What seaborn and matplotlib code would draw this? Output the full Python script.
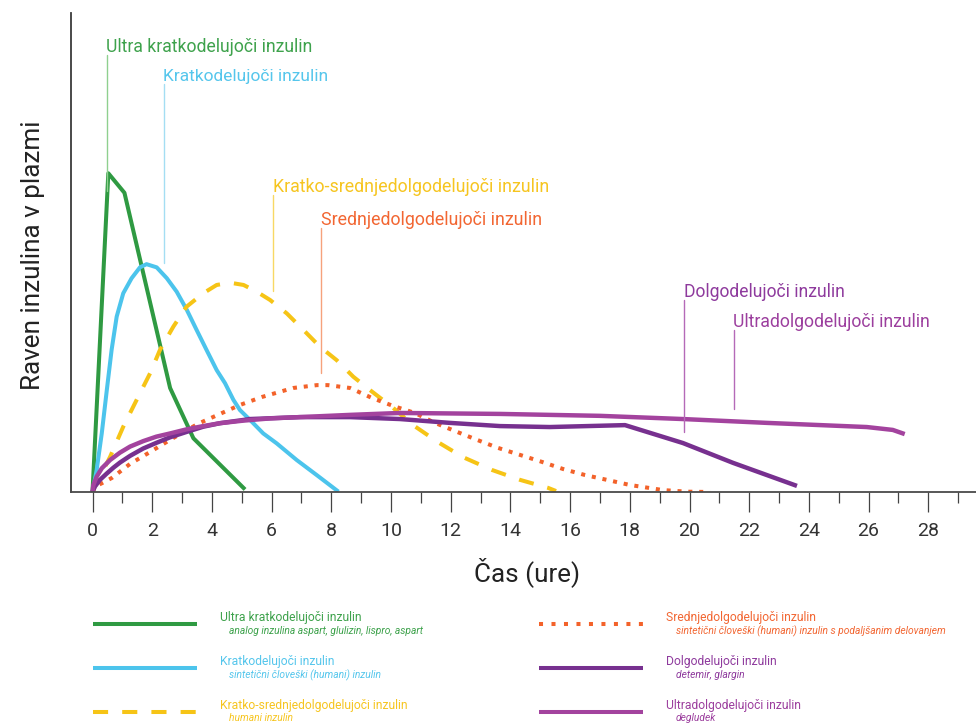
import numpy as np
import matplotlib
matplotlib.use("Agg")
import matplotlib.pyplot as plt
from matplotlib.lines import Line2D
import seaborn as sns

# ---------------- data (time in hours, relative plasma level) ----------------
names = ["Ultra kratkodelujoči inzulin", "Kratkodelujoči inzulin",
         "Kratko-srednjedolgodelujoči inzulin", "Srednjedolgodelujoči inzulin",
         "Dolgodelujoči inzulin", "Ultradolgodelujoči inzulin"]
subtitles = ["analog inzulina aspart, glulizin, lispro, aspart",
             "sintetični človeški (humani) inzulin",
             "humani inzulin",
             "sintetični človeški (humani) inzulin s podaljšanim delovanjem",
             "detemir, glargin",
             "degludek"]

ultra_t = [0, 0.53, 1.07, 2.60, 3.38, 5.11]
ultra_v = [0, 99.6, 93.5, 32.5, 16.8, 0.8]

short_t = [0, 0.14, 0.31, 0.48, 0.64, 0.81, 1.03, 1.31, 1.59, 1.81, 2.15, 2.49, 2.82, 3.16, 3.49, 3.82,
           4.16, 4.44, 4.72, 4.94, 5.28, 5.72, 6.17, 6.84, 7.51, 8.24]
short_v = [0, 6.9, 18.3, 31.9, 44.4, 54.8, 62.1, 66.8, 70.2, 71.2, 70.2, 66.8, 62.6, 56.9, 50.6, 44.4,
           38.1, 34.0, 28.8, 25.6, 22.5, 18.3, 15.2, 10.0, 5.3, 0.1]

mix_t = [0, 0.08, 0.59, 1.03, 1.48, 1.93, 2.26, 2.71, 3.15, 3.71, 4.16, 4.61, 5.06, 5.50, 5.95, 6.51, 7.07,
         7.62, 8.18, 8.74, 9.29, 10.07, 10.74, 11.57, 12.41, 13.38, 14.32, 15.26, 15.53]
mix_v = [0, 1.7, 11.0, 20.4, 28.8, 37.1, 44.4, 51.7, 57.9, 62.1, 64.7, 65.4, 64.7, 62.6, 60.0, 55.8, 50.6,
         45.4, 41.2, 36.0, 31.9, 26.3, 20.9, 15.6, 10.9, 6.9, 3.8, 1.3, 0.3]

mid_t = [0, 0.08, 0.65, 1.26, 1.93, 2.60, 3.53, 4.27, 4.94, 5.68, 6.72, 7.52, 7.89, 8.63, 9.36, 10.07, 10.80, 11.47, 12.21,
         12.88, 13.58, 14.32, 15.06, 15.76, 16.50, 17.23, 18.00, 19.11, 19.92, 20.69]
mid_v = [0, 1.6, 4.4, 8.8, 12.5, 16.3, 21.3, 24.4, 27.2, 29.7, 32.5, 33.4, 33.4, 32.5, 29.4, 26.9, 24.7, 21.6, 18.8,
         16.3, 13.8, 11.6, 9.4, 7.2, 5.3, 3.8, 2.2, 0.6, 0.1, 0.0]

long_t = [0, 0.08, 0.25, 0.48, 0.70, 0.92, 1.26, 1.70, 2.15, 2.60, 3.16, 3.71, 4.27, 5.28, 6.95, 8.63, 10.30,
          11.97, 13.65, 15.32, 17.84, 19.78, 21.46, 23.60]
long_v = [0, 1.7, 3.8, 5.8, 7.6, 9.2, 11.3, 13.6, 15.4, 17.1, 18.8, 20.4, 21.5, 22.8, 23.4, 23.4, 22.8,
          21.6, 20.6, 20.3, 20.9, 15.3, 9.1, 1.9]

ulong_t = [0, 0.03, 0.14, 0.31, 0.59, 0.92, 1.26, 1.70, 2.14, 2.60, 3.16, 3.71, 4.27, 5.05, 5.95, 8.63, 10.30,
           13.65, 17.00, 19.78, 22.59, 25.94, 26.81, 27.21]
ulong_v = [0, 2.2, 4.8, 7.4, 10.0, 12.3, 14.2, 15.9, 17.3, 18.3, 19.6, 20.6, 21.5, 22.3, 23.0, 24.1, 24.7,
           24.4, 23.8, 22.8, 21.6, 20.3, 19.4, 18.1]

x_major = list(range(0, 29, 2))
x_minor = list(range(1, 30, 2))

# ---------------- styles ----------------
series = [(ultra_t, ultra_v), (short_t, short_v), (mix_t, mix_v),
          (mid_t, mid_v), (long_t, long_v), (ulong_t, ulong_v)]
line_colors = ["#2f9a42", "#4cc4ec", "#f6c416", "#f3622a", "#77308f", "#a3439e"]
text_colors = ["#3ea24c", "#55c6ec", "#f6c520", "#f26632", "#8e3a9d", "#9c3f9e"]
lead_colors = ["#8fd08f", "#a4def3", "#f8d864", "#f6a27c", "#b56ab8", "#b56ab8"]
linestyles = ["-", "-", (0, (3.75, 3.5)), (0, (1.0, 1.7)), "-", "-"]
lws = [2.9, 2.9, 2.9, 2.9, 3.2, 3.2]

sns.set_theme(style="white")
plt.rcParams["font.family"] = ["Roboto", "DejaVu Sans"]
plt.rcParams["font.weight"] = "normal"

W, H = 976, 725
fig = plt.figure(figsize=(W / 100, H / 100), dpi=100)
ax = fig.add_axes([71 / W, (H - 492) / H, 1 - 71 / W, (492 - 13) / H])

PX_T = 29.85   # pixels per hour
PX_V = 3.2     # pixels per unit level

for (t, v), c, ls, lw in zip(series, line_colors, linestyles, lws):
    sns.lineplot(x=t, y=v, ax=ax, color=c, linestyle=ls, lw=lw, estimator=None,
                 sort=False, legend=False, dash_capstyle="butt", solid_capstyle="butt")

ax.set_xlim(-21.5 / PX_T, (976 - 92.5) / PX_T)
ax.set_ylim(0, (492 - 13) / PX_V)

for s in ["top", "right"]:
    ax.spines[s].set_visible(False)
ax.spines["left"].set_color("#3a3a3a")
ax.spines["bottom"].set_color("#4a4a4a")
ax.spines["left"].set_linewidth(1.3)
ax.spines["bottom"].set_linewidth(1.3)

ax.set_yticks([])
ax.set_xticks(x_major)
ax.set_xticks(x_minor, minor=True)
ax.set_xticklabels([str(x) for x in x_major])
ax.tick_params(axis="x", which="both", bottom=True, direction="out", color="#444444", width=0.9)
ax.tick_params(axis="x", which="major", length=14.5, pad=7, labelsize=14, labelcolor="#333333")
ax.tick_params(axis="x", which="minor", length=8)

ax.set_xlabel("Čas (ure)", fontsize=21, color="#222222")
ax.set_ylabel("Raven inzulina v plazmi", fontsize=21, color="#222222")
ax.xaxis.label.set_va("center")
ax.yaxis.label.set_va("center")
ax.xaxis.set_label_coords((527 - 71) / 905, (492 - 572) / 479)
ax.yaxis.set_label_coords((33 - 71) / 905, (492 - 255) / 479)

renderer = fig.canvas.get_renderer()


def fit(txt, width_px):
    bb = txt.get_window_extent(renderer)
    txt.set_fontsize(txt.get_fontsize() * width_px / bb.width)


fit(ax.xaxis.label, 106)
bb = ax.yaxis.label.get_window_extent(renderer)
ax.yaxis.label.set_fontsize(ax.yaxis.label.get_fontsize() * 270 / bb.height)

# ---------------- curve annotations ----------------
# (text left t, text baseline level, target text width px)
ann = [(0.46, 137.5, 208), (2.36, 128.4, 166), (6.04, 93.8, 278),
       (7.65, 83.4, 222), (19.80, 61.0, 162), (21.47, 51.5, 198)]
for i, (tx, ty, wpx) in enumerate(ann):
    txt = ax.text(tx, ty, names[i], color=text_colors[i], fontsize=14, va="baseline", ha="left")
    fit(txt, wpx)
    t, v = series[i]
    bottom = np.interp(tx + 0.02, t, v) + 12 / PX_V
    ax.plot([tx + 0.02, tx + 0.02], [ty - 1.0, bottom], color=lead_colors[i], lw=1.0)

# ---------------- legend ----------------
cols = [(92.5, 196.5, 220.5, 229), (538.5, 642.5, 666.5, 676)]
rows = [(624, 621.5, 634.5), (668.3, 665, 678), (712.3, 709, 721)]
main_size = None
sub_size = None
for i in range(6):
    c = cols[i // 3]
    r = rows[i % 3]
    ln = Line2D([c[0] / W, c[1] / W], [1 - r[0] / H, 1 - r[0] / H], transform=fig.transFigure,
                color=line_colors[i], lw=2.9, linestyle=linestyles[i] if i != 3 else (0, (1.0, 2.1)),
                dash_capstyle="butt", solid_capstyle="butt")
    fig.add_artist(ln)
    t1 = fig.text(c[2] / W, 1 - r[1] / H, names[i], color=text_colors[i], fontsize=10, va="baseline", ha="left")
    t2 = fig.text(c[3] / W, 1 - r[2] / H, subtitles[i], color=text_colors[i], fontsize=8, style="italic",
                  va="baseline", ha="left")
    if i == 2:
        fit(t1, 188)
        main_size = t1.get_fontsize()
    if i == 3:
        fit(t2, 272)
        sub_size = t2.get_fontsize()
for t in fig.texts:
    if t.get_style() == "italic":
        t.set_fontsize(sub_size)
    else:
        t.set_fontsize(main_size)

fig.savefig("out.png", dpi=100, facecolor="white")
